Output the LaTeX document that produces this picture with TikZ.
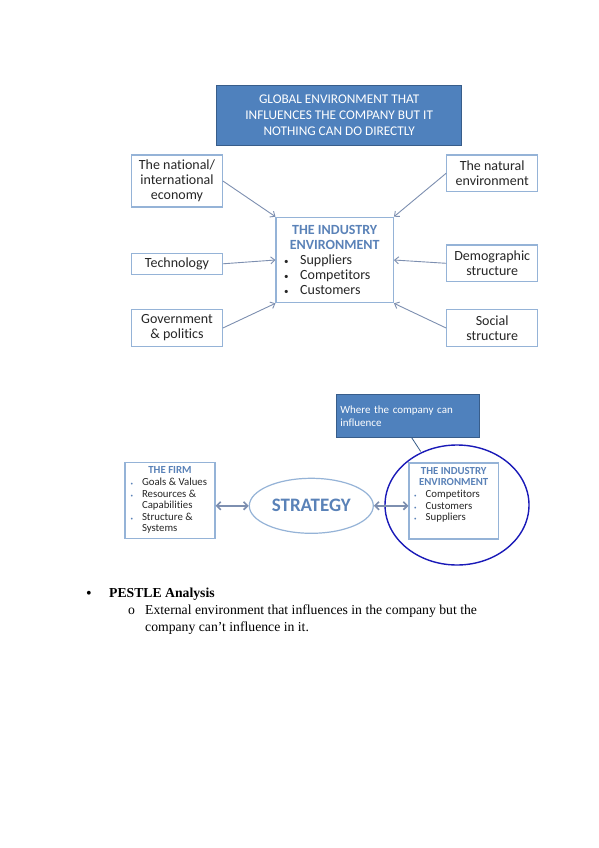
\documentclass[tikz,border=0pt]{standalone}
\usepackage{fontspec}
\setmainfont{Liberation Serif}
\newfontfamily\diag[Ligatures=NoCommon]{Carlito}
\usetikzlibrary{arrows.meta,shapes.geometric}
\definecolor{boxline}{HTML}{95B3D7}
\definecolor{topfill}{HTML}{4F81BD}
\definecolor{topline}{HTML}{385D8A}
\definecolor{headblue}{HTML}{5A82B8}
\definecolor{arrowc}{HTML}{7D8FB0}
\definecolor{circblue}{HTML}{1A1AB8}
\tikzset{
  envbox/.style={draw=boxline,line width=1.2pt,fill=white,inner sep=1pt,align=center,font=\diag\fontsize{14}{15}\selectfont,text=black!85},
  bluebox/.style={draw=topline,line width=1pt,fill=topfill,text=white,inner sep=2pt},
  arr/.style={draw=arrowc,line width=0.9pt,-{Straight Barb[length=4pt,width=7pt]}},
  darr/.style={draw=arrowc,line width=1.6pt,{Straight Barb[length=4pt,width=8pt]}-{Straight Barb[length=4pt,width=8pt]}},
  head/.style={text=headblue,font=\diag\bfseries}
}
\begin{document}
\begin{tikzpicture}[x=1pt,y=-1pt]
\useasboundingbox (0,0) rectangle (599,848);
\fill[white] (0,0) rectangle (599,848);
% first diagram
\node[bluebox,minimum width=245pt,minimum height=59pt,align=center,font=\diag\fontsize{13.3}{16}\selectfont] (top) at (339.2,115.5)
  {GLOBAL ENVIRONMENT THAT\\INFLUENCES THE COMPANY BUT IT\\NOTHING CAN DO DIRECTLY};
\node[envbox,minimum width=90.6pt,minimum height=52pt] (nat) at (177,181) {The national/\\international\\economy};
\node[envbox,minimum width=91pt,minimum height=36.7pt] (natl) at (492.2,173.3) {The natural\\environment};
\node[envbox,minimum width=90.6pt,minimum height=21pt] (tech) at (177,263.8) {Technology};
\node[envbox,minimum width=91pt,minimum height=36.7pt] (demo) at (492.2,263.3) {Demographic\\structure};
\node[envbox,minimum width=90.6pt,minimum height=37.4pt] (gov) at (177,328) {Government\\\& politics};
\node[envbox,minimum width=91pt,minimum height=37.4pt] (soc) at (492.2,328) {Social\\structure};
\node[envbox,minimum width=117.3pt,minimum height=85.4pt,align=left] (ind) at (334.7,260)
  {\parbox{113pt}{\centering\textcolor{headblue}{\bfseries THE INDUSTRY\\ENVIRONMENT}\\
   \raggedright
   \makebox[22pt][l]{\hspace{6pt}\small\textbullet}Suppliers\\
   \makebox[22pt][l]{\hspace{6pt}\small\textbullet}Competitors\\
   \makebox[22pt][l]{\hspace{6pt}\small\textbullet}Customers}};
\draw[arr] (nat.east) -- (ind.north west);
\draw[arr] (natl.west) -- (ind.north east);
\draw[arr] (tech.east) -- (ind.west);
\draw[arr] (demo.west) -- (ind.east);
\draw[arr] (gov.east) -- (ind.south west);
\draw[arr] (soc.west) -- (ind.south east);
% second diagram
\node[bluebox,minimum width=143.3pt,minimum height=42.7pt,text width=136pt,align=left,font=\diag\fontsize{11}{13.3}\selectfont] (call) at (408.3,416.3)
  {Where the company can\\influence};
\node[draw=circblue,line width=1.4pt,ellipse,minimum width=144pt,minimum height=120pt] (circ) at (457,505) {};
\coordinate (callfoot) at (411.7,437.7);
\coordinate (circtop) at (420.7,451.5);
\draw[topline,line width=0.8pt] (callfoot) -- (circtop);
\node[envbox,minimum width=90pt,minimum height=76pt,font=\diag\fontsize{10.8}{11.6}\selectfont] (firm) at (170,500.3)
  {\parbox{86pt}{\centering\textcolor{headblue}{\bfseries THE FIRM}\\
   \raggedright
   \makebox[15pt][l]{\hspace{3.5pt}\textcolor{headblue}{\tiny\textbullet}}Goals \& Values\\
   \makebox[15pt][l]{\hspace{3.5pt}\textcolor{headblue}{\tiny\textbullet}}Resources \&\\
   \makebox[15pt][l]{}Capabilities\\
   \makebox[15pt][l]{\hspace{3.5pt}\textcolor{headblue}{\tiny\textbullet}}Structure \&\\
   \makebox[15pt][l]{}Systems}};
\node[draw=boxline,line width=1.2pt,ellipse,minimum width=124pt,minimum height=55pt,inner sep=0pt,font=\diag\bfseries\fontsize{19}{21}\selectfont,text=headblue] (strat) at (311.3,505.8) {STRATEGY};
\node[envbox,minimum width=89.3pt,minimum height=76pt,font=\diag\fontsize{10.8}{11.6}\selectfont,anchor=north] (ind2) at (453.7,462.3)
  {\parbox{86pt}{\vspace*{2pt}\centering\textcolor{headblue}{\bfseries THE INDUSTRY\\ENVIRONMENT}\\
   \raggedright
   \makebox[15pt][l]{\hspace{3.5pt}\textcolor{headblue}{\tiny\textbullet}}Competitors\\
   \makebox[15pt][l]{\hspace{3.5pt}\textcolor{headblue}{\tiny\textbullet}}Customers\\
   \makebox[15pt][l]{\hspace{3.5pt}\textcolor{headblue}{\tiny\textbullet}}Suppliers\vspace*{14pt}}};
\draw[darr] (firm.east |- strat.west) -- (strat.west);
\draw[darr] (strat.east) -- (ind2.west |- strat.east);
% text
\node[anchor=base west,inner sep=0pt,font=\fontsize{16}{14}\selectfont] (b1) at (86,598) {\textbullet};
\node[anchor=base west,inner sep=0pt,font=\bfseries\fontsize{13.7}{14}\selectfont] (t1) at (109,597) {PESTLE Analysis};
\node[anchor=base west,inner sep=0pt,font=\fontsize{13.7}{14}\selectfont] (b2) at (128,614) {o};
\node[anchor=base west,inner sep=0pt,font=\fontsize{13.7}{14}\selectfont] (t2) at (145,614) {External environment that influences in the company but the};
\node[anchor=base west,inner sep=0pt,font=\fontsize{13.7}{14}\selectfont] (t3) at (145,631) {company can't influence in it.};
\end{tikzpicture}
\end{document}
